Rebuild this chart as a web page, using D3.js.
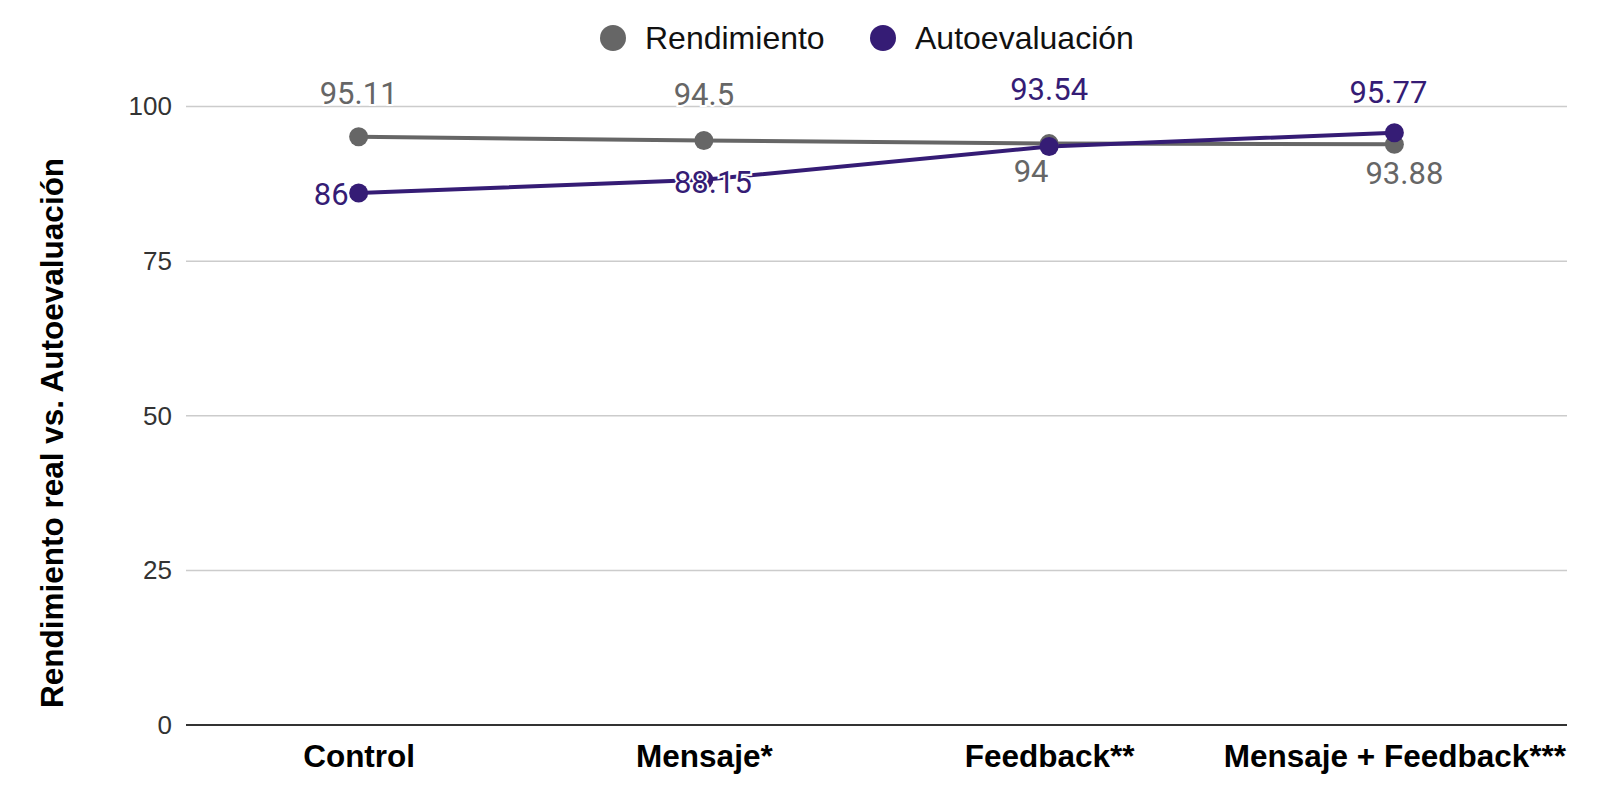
<!DOCTYPE html>
<html>
<head>
<meta charset="utf-8">
<script src="https://cdn.jsdelivr.net/npm/d3@7"></script>
<style>
  html, body { margin: 0; padding: 0; background: #fff; }
  svg { display: block; }
</style>
</head>
<body>
<svg id="chart" width="1600" height="807"></svg>
<script>
  // data
  var categories = ['Control', 'Mensaje*', 'Feedback**', 'Mensaje + Feedback***'];
  var seriesNames = ['Rendimiento', 'Autoevaluación'];
  var rendimiento = [95.11, 94.5, 94, 93.88];
  var autoevaluacion = [86, 88.15, 93.54, 95.77];
  var yTicks = [0, 25, 50, 75, 100];

  // label placement (dx, dy from the point) as in the original
  var labelPos = [
    [[0, -33, 'middle'], [0, -36, 'middle'], [-18, 38, 'middle'], [10, 40, 'middle']],
    [[-10, 12, 'end'], [9, 13, 'middle'], [0, -46, 'middle'], [-6, -30, 'middle']]
  ];

  var colors = ['#666666', '#351c75'];

  var svg = d3.select('#chart');
  var plotLeft = 186, plotRight = 1567, plotTop = 106.5, plotBottom = 725;

  var x = d3.scalePoint()
    .domain(categories)
    .range([plotLeft, plotRight])
    .padding(0.5);

  var y = d3.scaleLinear()
    .domain([0, 100])
    .range([plotBottom, plotTop]);

  // gridlines
  svg.append('g').selectAll('line')
    .data(yTicks.filter(function (d) { return d > 0; }))
    .enter()
    .append('line')
    .attr('x1', plotLeft).attr('x2', plotRight)
    .attr('y1', function (d) { return y(d); })
    .attr('y2', function (d) { return y(d); })
    .attr('stroke', '#cccccc')
    .attr('stroke-width', 1.5);

  // y axis tick labels
  var yAxis = d3.axisLeft(y).tickValues(yTicks).tickSize(0).tickPadding(14);
  var yg = svg.append('g').attr('transform', 'translate(' + plotLeft + ',0)').call(yAxis);
  yg.select('.domain').remove();
  yg.selectAll('text')
    .attr('font-family', '"Liberation Sans", Arial, sans-serif')
    .attr('font-size', 26)
    .attr('fill', '#333');

  // baseline
  svg.append('line')
    .attr('x1', plotLeft).attr('x2', plotRight)
    .attr('y1', y(0)).attr('y2', y(0))
    .attr('stroke', '#333')
    .attr('stroke-width', 2);

  // x axis labels
  var xAxis = d3.axisBottom(x).tickSize(0).tickPadding(20);
  var xg = svg.append('g').attr('transform', 'translate(0,' + y(0) + ')').call(xAxis);
  xg.select('.domain').remove();
  xg.selectAll('text')
    .attr('font-family', '"Liberation Sans", Arial, sans-serif')
    .attr('font-size', 31.5)
    .attr('font-weight', 'bold')
    .attr('fill', '#000');

  // y axis title
  svg.append('text')
    .attr('transform', 'translate(63,433) rotate(-90)')
    .attr('text-anchor', 'middle')
    .attr('font-family', '"Liberation Sans", Arial, sans-serif')
    .attr('font-size', 31.5)
    .attr('font-weight', 'bold')
    .attr('fill', '#000')
    .text('Rendimiento real vs. Autoevaluación');

  var series = [rendimiento, autoevaluacion];
  var line = d3.line()
    .x(function (d, i) { return x(categories[i]); })
    .y(function (d) { return y(d); });

  series.forEach(function (vals, s) {
    svg.append('path')
      .datum(vals)
      .attr('d', line)
      .attr('fill', 'none')
      .attr('stroke', colors[s])
      .attr('stroke-width', 4);
  });

  series.forEach(function (vals, s) {
    svg.append('g').selectAll('circle')
      .data(vals)
      .enter()
      .append('circle')
      .attr('cx', function (d, i) { return x(categories[i]); })
      .attr('cy', function (d) { return y(d); })
      .attr('r', 9.5)
      .attr('fill', colors[s]);
  });

  // data labels
  series.forEach(function (vals, s) {
    svg.append('g').selectAll('text')
      .data(vals)
      .enter()
      .append('text')
      .attr('x', function (d, i) { return x(categories[i]) + labelPos[s][i][0]; })
      .attr('y', function (d, i) { return y(d) + labelPos[s][i][1]; })
      .attr('text-anchor', function (d, i) { return labelPos[s][i][2]; })
      .attr('font-family', 'Roboto, sans-serif')
      .attr('font-size', 31)
      .attr('fill', colors[s])
      .attr('stroke', '#fff')
      .attr('stroke-width', 4)
      .attr('paint-order', 'stroke')
      .text(function (d) { return d; });
  });

  // legend
  var legendX = [613, 883];
  var lg = svg.append('g').selectAll('g')
    .data(seriesNames)
    .enter()
    .append('g')
    .attr('transform', function (d, i) { return 'translate(' + legendX[i] + ',38)'; });
  lg.append('circle')
    .attr('r', 13)
    .attr('fill', function (d, i) { return colors[i]; });
  lg.append('text')
    .attr('x', 32)
    .attr('y', 11)
    .attr('font-family', '"Liberation Sans", Arial, sans-serif')
    .attr('font-size', 32)
    .attr('fill', '#111')
    .text(function (d) { return d; });
</script>
</body>
</html>
